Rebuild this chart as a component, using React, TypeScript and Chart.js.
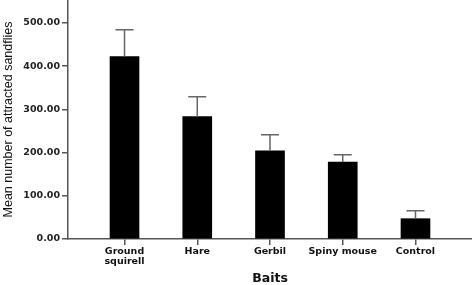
import React, { useEffect, useRef } from "react";
import { Chart, registerables } from "chart.js";
Chart.register(...registerables);

const categories: (string | string[])[] = [["Ground", "squirell"], "Hare", "Gerbil", "Spiny mouse", "Control"];
const means = [422, 283, 204, 178, 47];
const sems = [62, 46, 37, 17, 18.5];
const yTickValues = [0, 100, 200, 300, 400, 500];

export default function App() {
  const ref = useRef<HTMLCanvasElement>(null);
  useEffect(() => {
    document.body.style.margin = "0";
    const errorBars = {
      id: "errorBars",
      afterDatasetsDraw(chart: any) {
        const meta = chart.getDatasetMeta(0);
        const y = chart.scales.y;
        const ctx = chart.ctx;
        ctx.save();
        ctx.strokeStyle = "#666";
        ctx.lineWidth = 1.5;
        meta.data.forEach((bar: any, i: number) => {
          const yTop = y.getPixelForValue(means[i] + sems[i]);
          const yBar = y.getPixelForValue(means[i]);
          ctx.beginPath();
          ctx.moveTo(bar.x, yBar);
          ctx.lineTo(bar.x, yTop);
          ctx.moveTo(bar.x - 9, yTop);
          ctx.lineTo(bar.x + 9, yTop);
          ctx.stroke();
        });
        ctx.restore();
      },
    };
    const chart = new Chart(ref.current as HTMLCanvasElement, {
      type: "bar",
      data: {
        datasets: [
          {
            data: means.map((v, i) => ({ x: i, y: v })) as any,
            backgroundColor: "#000",
            barThickness: 29,
          },
        ],
      },
      options: {
        animation: false,
        responsive: false,
        layout: { padding: 0 },
        plugins: { legend: { display: false }, tooltip: { enabled: false } },
        scales: {
          x: {
            type: "linear",
            min: -0.777,
            max: 4.777,
            offset: false,
            border: { color: "#555", width: 1.5 },
            grid: { offset: false, drawOnChartArea: false, drawTicks: true, tickLength: 6, color: "#555", lineWidth: 1.5 },
            ticks: {
              stepSize: 1,
              autoSkip: false,
              maxRotation: 0,
              padding: 2,
              color: "#111",
              font: { family: "DejaVu Sans", weight: "bold", size: 9.5, lineHeight: 1.05 },
              callback: (v: any) => categories[v as number] as any,
            },
            afterBuildTicks: (s: any) => {
              s.ticks = s.ticks.filter((t: any) => Number.isInteger(t.value) && t.value >= 0 && t.value < categories.length);
            },
            afterFit: (s: any) => {
              s.height = 46;
              s.paddingLeft = 0;
              s.paddingRight = 0;
            },
            title: {
              display: true,
              text: "Baits",
              color: "#111",
              font: { family: "DejaVu Sans", weight: "bold", size: 12.5, lineHeight: 1 },
              padding: { top: 0, bottom: 0 },
            },
          },
          y: {
            min: 0,
            max: 553,
            border: { color: "#555", width: 1.5 },
            grid: { drawOnChartArea: false, drawTicks: true, tickLength: 6, color: "#555", lineWidth: 1.5 },
            ticks: {
              stepSize: 100,
              padding: 2,
              color: "#222",
              font: { family: "DejaVu Sans", weight: "bold", size: 9.5 },
              callback: (v: any) => Number(v).toFixed(2),
            },
            afterBuildTicks: (s: any) => {
              s.ticks = yTickValues.map((v) => ({ value: v }));
            },
            afterFit: (s: any) => {
              s.width = 68;
              s.paddingTop = 0;
              s.paddingBottom = 0;
            },
            title: {
              display: true,
              text: "Mean number of attracted sandflies",
              color: "#111",
              font: { family: "Liberation Sans", size: 12.5 },
              padding: { top: 1, bottom: 0 },
            },
          },
        },
      } as any,
      plugins: [errorBars],
    });
    return () => chart.destroy();
  }, []);
  return (
    <div style={{ width: 472, height: 285 }}>
      <canvas ref={ref} width={472} height={285} />
    </div>
  );
}
